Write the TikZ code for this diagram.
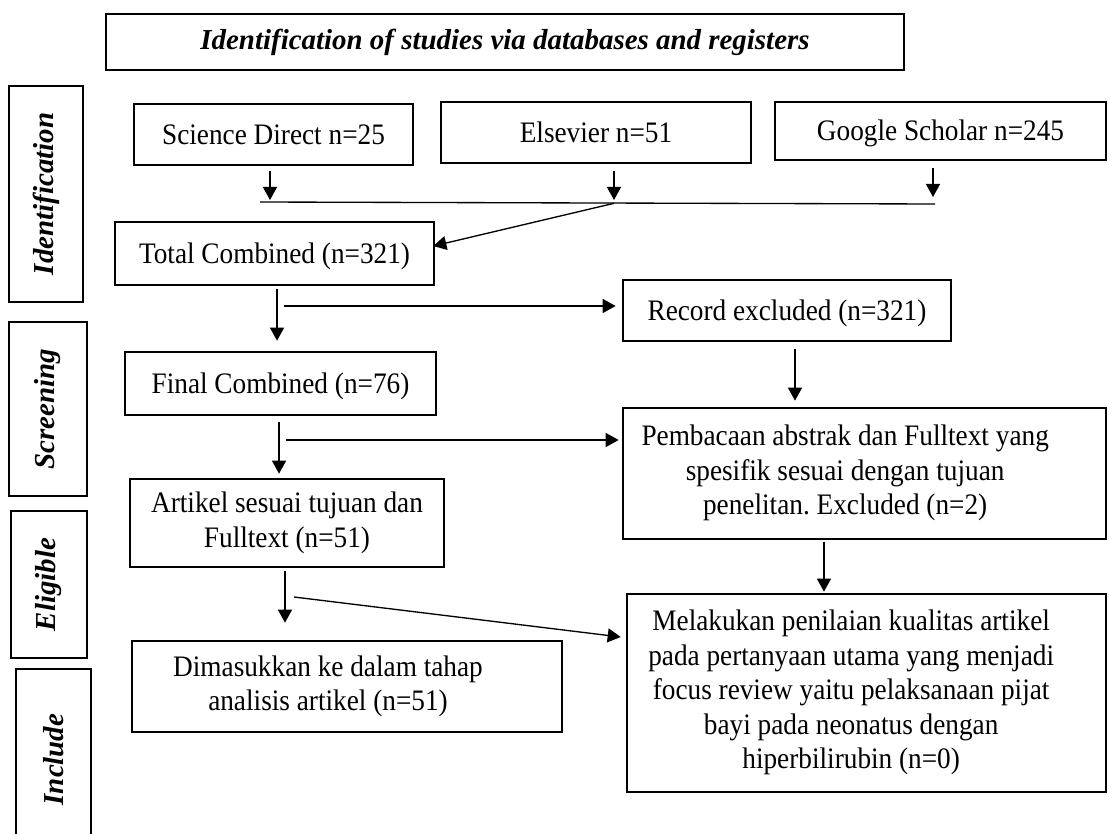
\documentclass[tikz,border=0pt]{standalone}
\usepackage{fontspec}
\setmainfont{Liberation Serif}
\newfontfamily\bodyfam[FakeStretch=0.917]{Liberation Serif}
\usetikzlibrary{arrows.meta,calc}
\newcommand\bodyfont{\bodyfam\fontsize{22.3pt}{25.9pt}\selectfont\frenchspacing}
\newcommand\labfont{\fontsize{21.7pt}{26pt}\selectfont\bfseries\itshape}
\newcommand\shiftedtext[2]{\begin{tabular}{@{}c@{}}#2\end{tabular}\kern#1\relax}
\begin{document}
\frenchspacing
\begin{tikzpicture}[x=0.75pt,y=-0.75pt,
  box/.style={draw, line width=2pt, inner sep=0pt, font=\bodyfont},
  bx/.style 2 args={box, minimum width=#1*0.75pt, minimum height=#2*0.75pt},
  oneline/.style={text height=14.7pt, text depth=0pt},
  side/.style 2 args={draw, line width=2pt, rotate=90, inner sep=0pt, font=\labfont,
    minimum width=#2*0.75pt, minimum height=#1*0.75pt},
  conn/.style={line width=1pt},
  arr/.style={conn, -{Triangle[length=9.75pt,width=10.5pt]}}]
\useasboundingbox (0,0) rectangle (1109,834);
\fill[white] (0,0) rectangle (1109,834);

% title
\node[draw, line width=2pt, inner sep=0pt, font=\labfont, minimum width=798*0.75pt, minimum height=56*0.75pt]
  (title) at (505,42) {Identification of studies via databases and registers};

% side labels
\node[side={74}{216}] (lid) at (46,194) {Identification};
\node[side={78}{174}] (lsc) at (48,409) {Screening};
\node[side={76}{147}] (lel) at (49,584.5) {Eligible};
\node[side={75}{181}] (lin) at (53.5,759.5) {Include};

% boxes
\node[bx={279}{61}, oneline] (sd) at (273.5,134.5) {Science Direct n=25};
\node[bx={310}{61}, oneline] (el) at (596,132.5) {Elsevier n=51};
\node[bx={331}{58}, oneline] (gs) at (940.5,131) {Google Scholar n=245};
\node[bx={319}{63}, oneline] (tc) at (274.5,253.5) {Total Combined (n=321)};
\node[bx={328}{61}, oneline] (re) at (787,310.5) {Record excluded (n=321)};
\node[bx={311}{63}, oneline] (fc) at (280.5,383.5) {Final Combined (n=76)};
\node[bx={483}{131}] (pa) at (864.5,473.5)
  {\shiftedtext{29pt}{Pembacaan abstrak dan Fulltext yang\\spesifik sesuai dengan tujuan\\penelitan. Excluded (n=2)}};
\node[bx={314}{88}, align=center] (ar) at (287,523) {Artikel sesuai tujuan dan\\Fulltext (n=51)};
\node[bx={430}{91}] (dm) at (347,686.5)
  {\shiftedtext{28.5pt}{Dimasukkan ke dalam tahap\\analisis artikel (n=51)}};
\node[bx={479}{198}] (me) at (866.5,693)
  {\shiftedtext{23pt}{Melakukan penilaian kualitas artikel\\pada pertanyaan utama yang menjadi\\focus review yaitu pelaksanaan pijat\\bayi pada neonatus dengan\\hiperbilirubin (n=0)}};

% junction coordinates
\coordinate (jl) at (260,202);
\coordinate (jr) at (935,204);
\coordinate (jm) at (614,203.3);
\coordinate (sdT) at (270,200);
\coordinate (elT) at (614,200);
\coordinate (gsT) at (933,197);
\coordinate (b1) at (284,306);
\coordinate (b2) at (286,440);
\coordinate (b3) at (294,597);

% connectors
\draw[arr, shorten <=3.75pt] (sd.south -| sdT) -- (sdT);
\draw[arr, shorten <=5pt] (el.south -| elT) -- (elT);
\draw[arr, shorten <=5pt] (gs.south -| gsT) -- (gsT);
\draw[conn] (jl) -- (jr);
\draw[arr] (jm) -- ([xshift=-1.5pt,yshift=5.6pt]tc.east);

\draw[arr, shorten <=2.25pt, shorten >=7.5pt] ([xshift=1.9pt]tc.south) -- ([xshift=1.9pt]tc.south |- fc.north);
\draw[arr, shorten >=4.5pt] (b1) -- (b1 -| re.west);
\draw[arr, shorten <=5.25pt, shorten >=4.5pt] ([xshift=6pt]re.south) -- ([xshift=6pt]re.south |- pa.north);

\draw[arr, shorten <=4.5pt, shorten >=3pt] ([xshift=-1.1pt]fc.south) -- ([xshift=-1.1pt]fc.south |- ar.north);
\draw[arr, shorten >=2.25pt] (b2) -- (b2 -| pa.west);
\draw[arr, shorten <=1pt, shorten >=0.75pt] ([xshift=-30.4pt]pa.south) -- ([xshift=-30.4pt]pa.south |- me.north);

\draw[arr, shorten <=2.25pt, shorten >=12.75pt] ([xshift=-1.5pt]ar.south) -- ([xshift=-1.5pt]ar.south |- dm.north);
\draw[arr] (b3) -- ([xshift=-3.75pt,yshift=42pt]me.west);
\end{tikzpicture}
\end{document}
